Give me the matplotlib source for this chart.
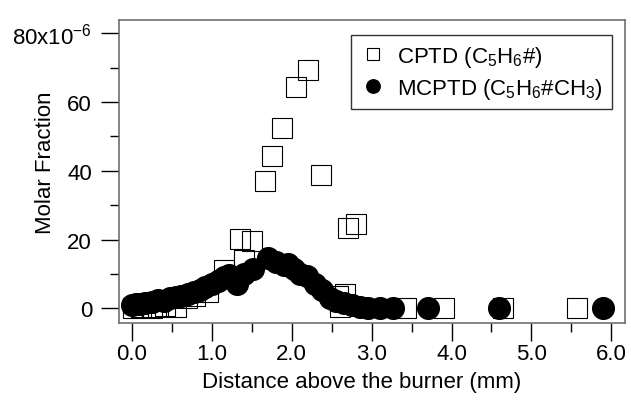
import matplotlib
matplotlib.use("Agg")
import matplotlib.pyplot as plt
from matplotlib.ticker import MultipleLocator

plt.rcParams['font.family'] = ['Liberation Sans', 'DejaVu Sans']
plt.rcParams['mathtext.fontset'] = 'custom'
plt.rcParams['mathtext.rm'] = 'Liberation Sans'
plt.rcParams['mathtext.it'] = 'Liberation Sans:italic'
plt.rcParams['mathtext.default'] = 'regular'

# CPTD (squares)
cptd_x = [0.02, 0.12, 0.25, 0.33, 0.42, 0.56, 0.69, 0.79, 0.96, 1.15, 1.35, 1.41, 1.50,
          1.67, 1.76, 1.88, 2.05, 2.20, 2.37, 2.58, 2.60, 2.67, 2.70, 2.81, 3.43, 3.91,
          4.64, 5.57]
cptd_y = [0.2, 0.3, 0.1, 0.4, 0.5, 0.3, 2.9, 3.5, 4.6, 11.1, 20.1, 14.0, 19.5,
          37.0, 44.4, 52.5, 64.3, 69.5, 38.7, 3.5, 0.3, 4.1, 23.3, 24.6, 0.0, 0.0,
          0.0, 0.0]

# MCPTD (filled circles)
mcptd_x = [0.00, 0.05, 0.10, 0.17, 0.25, 0.33, 0.40, 0.48, 0.55, 0.62, 0.70, 0.78, 0.85,
           0.92, 1.00, 1.08, 1.15, 1.22, 1.28, 1.32, 1.40, 1.52, 1.71, 1.81, 1.90, 1.96,
           2.03, 2.10, 2.19, 2.29, 2.38, 2.48, 2.55, 2.65, 2.75, 2.85, 2.96, 3.10, 3.27,
           3.70, 4.59, 5.89]
mcptd_y = [1.0, 1.2, 1.3, 1.6, 1.8, 2.4, 2.2, 3.0, 3.3, 3.6, 4.2, 4.8, 5.4,
           6.2, 7.0, 7.8, 9.0, 9.6, 9.0, 7.0, 10.0, 11.4, 14.6, 13.5, 12.6, 12.9,
           11.3, 10.0, 9.3, 7.0, 5.2, 3.0, 2.2, 1.5, 0.8, 0.3, 0.2, 0.2, 0.2,
           0.0, 0.0, 0.0]

y_ticks = [0, 20, 40, 60, 80]
y_tick_labels = ['0', '20', '40', '60', '80x10$^{-6}$']
x_ticks = [0, 1, 2, 3, 4, 5, 6]
x_tick_labels = ['0.0', '1.0', '2.0', '3.0', '4.0', '5.0', '6.0']

fig = plt.figure(figsize=(6.31, 4.10), dpi=100)
ax = fig.add_axes([0.1878, 0.209, 0.8027, 0.7405])

ax.plot(cptd_x, cptd_y, linestyle='none', marker='s', markersize=14.2,
        markerfacecolor='none', markeredgecolor='black', markeredgewidth=0.8,
        label='CPTD (C$_5$H$_6$#)')
ax.plot(mcptd_x, mcptd_y, linestyle='none', marker='o', markersize=15.6,
        markerfacecolor='black', markeredgecolor='black',
        label='MCPTD (C$_5$H$_6$#CH$_3$)')

ax.set_xlim(-0.165, 6.17)
ax.set_ylim(-4.4, 84)

ax.set_xticks(x_ticks)
ax.set_xticklabels(x_tick_labels)
ax.set_yticks(y_ticks)
ax.set_yticklabels(y_tick_labels)
ax.xaxis.set_minor_locator(MultipleLocator(0.5))
ax.yaxis.set_minor_locator(MultipleLocator(10))

ax.tick_params(axis='both', which='major', direction='out', length=13, width=1,
               labelsize=16, color='black')
ax.tick_params(axis='x', which='major', pad=1)
ax.tick_params(axis='y', which='major', pad=6)
ax.tick_params(axis='both', which='minor', direction='out', length=6.5, width=1,
               color='black')
ax.tick_params(top=False, right=False, which='both')

for s in ax.spines.values():
    s.set_color('#707070')
    s.set_linewidth(1.2)

ax.set_xlabel('Distance above the burner (mm)', fontsize=16)
ax.xaxis.set_label_coords(0.48, -0.193)
ax.xaxis.label.set_va('center')
ax.set_ylabel('Molar Fraction', fontsize=16)
ax.yaxis.set_label_coords(-0.145, 0.531)
ax.yaxis.label.set_va('center')

leg = ax.legend(loc='upper right', bbox_to_anchor=(0.9743, 0.9496),
                borderaxespad=0.0,
                fontsize=16, markerscale=0.62, frameon=True, fancybox=False,
                edgecolor='black', handletextpad=0.5, borderpad=0.4,
                labelspacing=0.3, handlelength=1.2)
leg.get_frame().set_linewidth(1.0)

fig.savefig('out.png', dpi=100)
